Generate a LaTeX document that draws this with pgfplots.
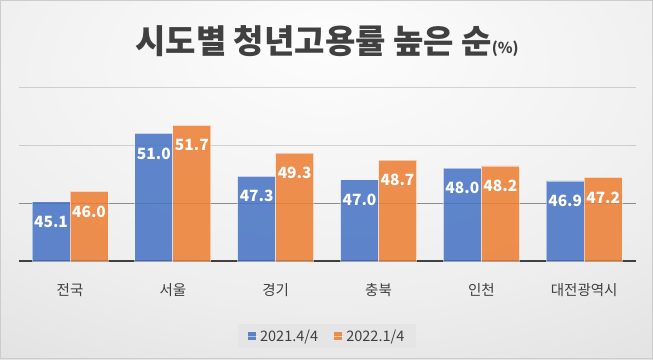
\documentclass[border=0pt]{standalone}
\usepackage{fontspec}
\setmainfont{Noto Sans CJK KR}
\usepackage{pgfplots}
\pgfplotsset{compat=1.18}
\definecolor{txt}{HTML}{404040}
\definecolor{cblue}{HTML}{4472C4}
\definecolor{corange}{HTML}{ED7D31}
\definecolor{bgA}{RGB}{253,253,253}
\definecolor{bgB}{RGB}{238,238,238}
\definecolor{bgC}{RGB}{217,217,217}
\definecolor{bgD}{RGB}{196,196,196}
\definecolor{legbg}{RGB}{229,229,229}
\definecolor{gridA}{RGB}{140,140,140}
\pgfdeclareradialshading{bgshade}{\pgfpoint{0bp}{20bp}}{color(0bp)=(bgA); color(30bp)=(bgB); color(55bp)=(bgC); color(90bp)=(bgD)}
\begin{document}
\begin{tikzpicture}[x=1bp,y=1bp]
\useasboundingbox (0,0) rectangle (653,359);
\shade[shading=bgshade] (0,0) rectangle (653,359);
\draw[gray!40, line width=0.75bp] (0.4,0.4) rectangle (652.6,358.6);
\node[anchor=base, text=txt, font=\fontsize{33bp}{36bp}\selectfont\bfseries, inner sep=0pt] at (327,306) {시도별 청년고용률 높은 순{\fontsize{15bp}{17bp}\selectfont(\%)}};
\begin{axis}[
  at={(18.6bp,98bp)}, anchor=south west,
  scale only axis, width=617bp, height=174bp,
  ybar=0pt, bar width=38bp,
  xmin=-0.5, xmax=5.5, ymin=40, ymax=55,
  xtick={0,1,2,3,4,5},
  xticklabels={전국,서울,경기,충북,인천,대전광역시},
  xticklabel style={font=\fontsize{14.5bp}{17bp}\selectfont, text=txt, anchor=center, yshift=-29bp},
  ytick={50,55}, yticklabels={},
  extra y ticks={45}, extra y tick labels={},
  ymajorgrids,
  grid style={draw=black, draw opacity=0.15, line width=0.75bp},
  extra y tick style={grid style={draw=gridA, draw opacity=1, line width=0.75bp}},
  axis x line*=bottom, axis y line*=left,
  x axis line style={-, draw=txt, line width=2bp},
  y axis line style={draw=none},
  major tick length=0pt,
  tick style={draw=none},
  nodes near coords,
  every node near coord/.append style={font=\fontsize{15.5bp}{18bp}\selectfont\bfseries, text=white, text opacity=1, anchor=center, yshift=-20bp},
  /pgf/number format/fixed,
  /pgf/number format/fixed zerofill,
  /pgf/number format/precision=1,
  /pgf/number format/assume math mode=true,
  legend style={at={(0.5,-0.431)}, anchor=center, draw=none, fill=legbg,
    legend columns=2, font=\fontsize{14.5bp}{16bp}\selectfont, text=txt,
    /tikz/every even column/.append style={column sep=14bp},
    inner xsep=10bp, inner ysep=4bp},
  legend image code/.code={\fill[#1, draw=none, fill opacity=0.85] (0bp,-4bp) rectangle (8bp,4bp); \path (0bp,0bp) -- (9.5bp,0bp);},
]
\addplot[fill=cblue, fill opacity=0.85, draw=white, draw opacity=0.5, line width=0.75bp] coordinates {(0,45.1) (1,51.0) (2,47.3) (3,47.0) (4,48.0) (5,46.9)};
\addplot[fill=corange, fill opacity=0.85, draw=white, draw opacity=0.5, line width=0.75bp] coordinates {(0,46.0) (1,51.7) (2,49.3) (3,48.7) (4,48.2) (5,47.2)};
\legend{2021.4/4, 2022.1/4}
\end{axis}
\end{tikzpicture}
\end{document}
